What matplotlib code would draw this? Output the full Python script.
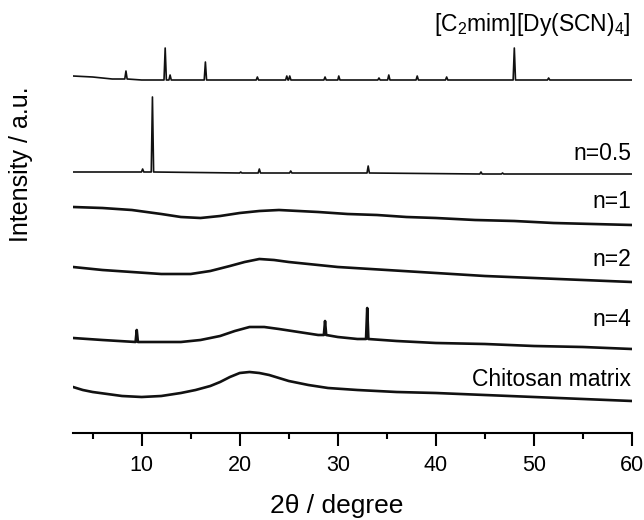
import numpy as np
import matplotlib
matplotlib.use('Agg')
import matplotlib.pyplot as plt

plt.rcParams['font.family'] = ['Liberation Sans', 'DejaVu Sans']
plt.rcParams['mathtext.fontset'] = 'custom'
plt.rcParams['mathtext.rm'] = 'Liberation Sans'
plt.rcParams['mathtext.default'] = 'regular'

# stacked XRD patterns, baselines read at a few 2-theta points (a.u.)
names = ['Chitosan matrix', 'n=4', 'n=2', 'n=1', 'n=0.5', '[C$_2$mim][Dy(SCN)$_4$]']

chit_x = [3, 4, 5, 6.5, 8, 10, 12, 14, 15.5, 17, 18, 19, 20, 21, 22, 23, 24, 25, 27, 29, 32, 36, 40, 45, 50, 55, 60]
chit_y = [49, 46, 44, 42, 40, 39, 40, 43, 46, 50, 54, 59, 63, 64, 63, 61, 58, 55, 51, 48, 46, 44, 43, 41, 39, 37, 35]

n4_x = [3, 6, 10, 14, 16, 18, 19.5, 21, 22.5, 24, 26, 28, 30, 32, 36, 40, 45, 50, 55, 60]
n4_y = [98, 96, 94, 94, 96, 100, 105, 109, 109, 107, 104, 101, 99, 97, 95, 93, 92, 90, 89, 87]
n4_peaks = [(9.5, 94, 106), (28.7, 101, 115), (33.0, 97, 128)]

n2_x = [3, 6, 9, 12, 15, 17, 19, 20.5, 22, 23.5, 25, 27, 30, 35, 40, 45, 50, 55, 60]
n2_y = [169, 166, 164, 162, 162, 165, 170, 174, 177, 176, 174, 172, 169, 166, 163, 160, 158, 156, 154]

n1_x = [3, 6, 9, 12, 14, 16, 18, 20, 22, 24, 26, 28, 31, 34, 37, 40, 44, 48, 52, 56, 60]
n1_y = [229, 228, 226, 222, 219, 218, 220, 223, 225, 226, 225, 224, 222, 221, 219, 218, 216, 215, 213, 212, 211]

n05_x = [3, 8, 20, 30, 45, 60]
n05_y = [264, 264, 263, 263, 262, 262]
n05_peaks = [(10.1, 264, 267), (11.1, 264, 339), (20.1, 263, 264), (22.0, 263, 267),
             (25.2, 263, 265), (33.1, 263, 270), (44.6, 262, 264), (46.8, 262, 263)]

dy_x = [3, 5, 7, 10, 20, 30, 40, 50, 60]
dy_y = [360, 359, 357, 356, 356, 356, 356, 356, 356]
dy_peaks = [(8.4, 357, 365), (12.4, 356, 388), (12.9, 356, 361), (16.5, 356, 374),
            (21.8, 356, 359), (24.8, 356, 360), (25.1, 356, 360), (28.7, 356, 359),
            (30.1, 356, 360), (34.2, 356, 358), (35.2, 356, 361), (38.1, 356, 360),
            (41.1, 356, 359), (48.0, 356, 388), (51.5, 356, 358)]

label_y = [56, 116, 176, 234, 282, 411]

xticks_major = [10, 20, 30, 40, 50, 60]
xticks_minor = [5, 15, 25, 35, 45, 55]


def with_peaks(xs, ys, peaks, w=0.12):
    pts = list(zip(xs, ys))
    for xp, base, top in peaks:
        pts += [(xp - w, base), (xp, top), (xp + w, base)]
    pts.sort()
    return [p[0] for p in pts], [p[1] for p in pts]


fig = plt.figure(figsize=(6.44, 5.2), dpi=100)
ax = fig.add_axes([73 / 644, 87 / 520, 559 / 644, 433 / 520])

curves = [
    (chit_x, chit_y, [], 1.9),
    (n4_x, n4_y, n4_peaks, 1.9),
    (n2_x, n2_y, [], 1.9),
    (n1_x, n1_y, [], 1.9),
    (n05_x, n05_y, n05_peaks, 1.2),
    (dy_x, dy_y, dy_peaks, 1.2),
]
for (xs, ys, pk, lw), name, ly in zip(curves, names, label_y):
    px, py = with_peaks(xs, ys, pk)
    ax.plot(px, py, color='#111111', lw=lw, solid_joinstyle='round')
    ax.text(59.9, ly, name, ha='right', va='center', fontsize=16.5)

ax.set_xlim(3, 60)
ax.set_ylim(3, 436)
for s in ['left', 'top', 'right']:
    ax.spines[s].set_visible(False)
ax.spines['bottom'].set_linewidth(1.5)
ax.set_yticks([])
ax.set_xticks(xticks_major)
ax.set_xticks(xticks_minor, minor=True)
ax.tick_params(axis='x', which='major', direction='out', length=9, width=1.5, labelsize=15.5, pad=7)
ax.tick_params(axis='x', which='minor', direction='out', length=4.5, width=1.5)
ax.set_xlabel('2θ / degree', fontsize=19)
ax.xaxis.set_label_coords(0.472, -0.14)
ax.set_ylabel('Intensity / a.u.', fontsize=18)
ax.yaxis.set_label_coords(-0.072, 0.62)

fig.savefig('out.png', dpi=100)
